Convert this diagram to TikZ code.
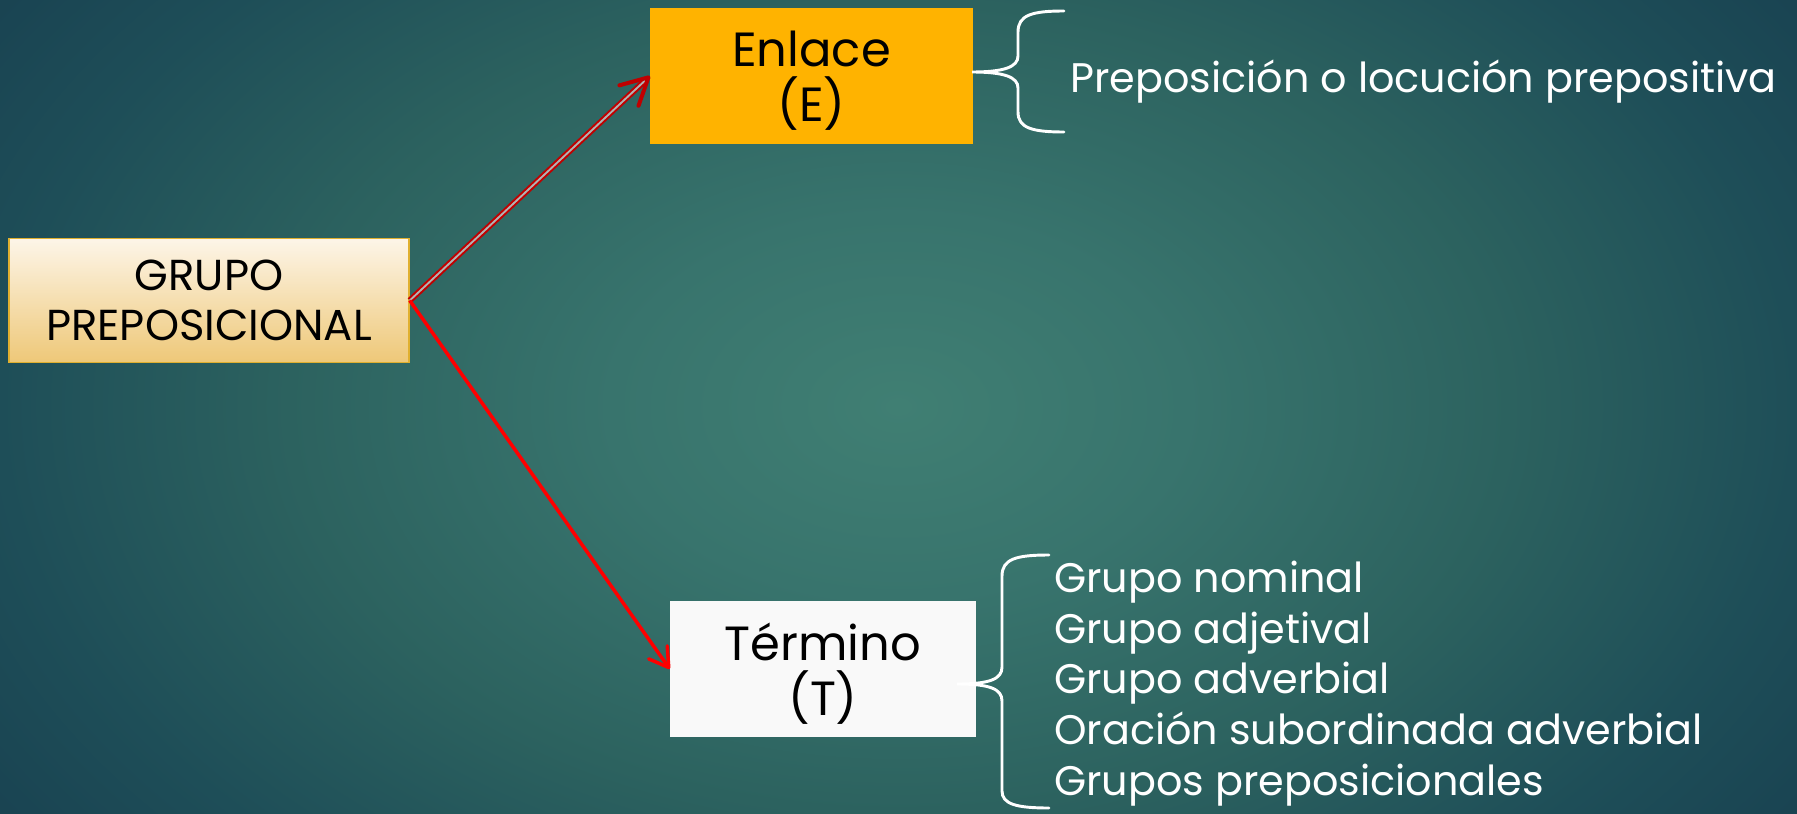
\documentclass[tikz,border=0pt]{standalone}
\usepackage{fontspec}
\setmainfont{Poppins}
\usetikzlibrary{arrows.meta}
\definecolor{fondoclaro}{RGB}{64,127,115}
\definecolor{fondomedio}{RGB}{56,116,109}
\definecolor{fondotenue}{RGB}{44,98,95}
\definecolor{fondoborde}{RGB}{30,78,88}
\definecolor{fondooscuro}{RGB}{24,64,80}
\definecolor{crema}{RGB}{253,245,232}
\definecolor{ocre}{RGB}{238,200,120}
\definecolor{dorado}{RGB}{224,176,48}
\definecolor{naranja}{RGB}{255,179,0}
\definecolor{blanco}{RGB}{249,249,249}
\definecolor{rojooscuro}{RGB}{192,0,0}
\pgfdeclareradialshading{fondo}{\pgfpoint{0bp}{0bp}}{color(0bp)=(fondoclaro);
	color(8bp)=(fondomedio); color(17bp)=(fondotenue); color(25bp)=(fondoborde);
	color(32bp)=(fondooscuro); color(50bp)=(fondooscuro)}
\newcommand{\sinprof}[1]{\raisebox{0pt}[\height][0pt]{#1}}
\tikzset{
	caja/.style={minimum width=#1, minimum height=102pt, inner sep=0pt,
		align=center, font=\fontsize{36}{41}\selectfont},
	textoblanco/.style={text=white, inner sep=0pt, anchor=base west,
		font=\fontsize{31}{38}\selectfont},
	llave/.style={draw=white, line width=2.2pt, line cap=round},
	flecha/.style={draw=red, line width=2.6pt,
		-{Straight Barb[length=14pt, width=17pt, line width=2.6pt, round]}},
	dobleflecha/.style={draw=rojooscuro, line width=1.5pt, double=gray!60,
		double distance=1.4pt,
		-{Straight Barb[length=20pt, width=21pt, line width=3pt, round]}}
}
\begin{document}
\begin{tikzpicture}[x=0.75pt, y=-0.75pt]
	\useasboundingbox (0,0) rectangle (1797,813);
	\begin{scope}
	\clip (0,0) rectangle (1797,813);
	\shade[shading=fondo] (0,-190) rectangle (1797,1003);
	\end{scope}
	% cajas
	\node (grupo) at (209,300.5) [minimum width=300pt, minimum height=93pt,
		inner sep=0pt, top color=crema, bottom color=ocre, draw=dorado,
		line width=1.1pt, align=center, font=\fontsize{32.5}{38}\selectfont] {
		GRUPO\\ PREPOSICIONAL
	};
	\node (enlace) at (811.5,76) [caja=242pt, fill=naranja] {
		Enlace\\ \sinprof{(E)}
	};
	\node (termino) at (823,669) [caja=229.5pt, fill=blanco] {
		Término\\ \sinprof{(T)}
	};
	% flechas
	\draw[dobleflecha] (grupo.east) -- (enlace.west);
	\draw[flecha] (grupo.east) -- (termino.west);
	% llaves
	\draw[llave] (1064,11) .. controls (1032,11) and (1018,15) .. (1018,32)
		-- (1018,56) .. controls (1018,67) and (1004,72) .. (972,72)
		.. controls (1004,72) and (1018,77) .. (1018,88)
		-- (1018,112) .. controls (1018,128) and (1032,132) .. (1064,132);
	\draw[llave] (1049,555) .. controls (1016,555) and (1002,559) .. (1002,576)
		-- (1002,667) .. controls (1002,679) and (990,684) .. (957,684)
		.. controls (990,684) and (1002,689) .. (1002,701)
		-- (1002,791) .. controls (1002,804) and (1016,808) .. (1049,808);
	% textos
	\node (prep) at (1070,93) [textoblanco] {Preposición o locución prepositiva};
	\node (nominal) at (1054,592) [textoblanco] {Grupo nominal};
	\node (adjetival) at (1054,643) [textoblanco] {Grupo adjetival};
	\node (adverbial) at (1054,693) [textoblanco] {Grupo adverbial};
	\node (oracion) at (1054,744) [textoblanco] {Oración subordinada adverbial};
	\node (grupos) at (1054,795) [textoblanco] {Grupos preposicionales};
\end{tikzpicture}
\end{document}
